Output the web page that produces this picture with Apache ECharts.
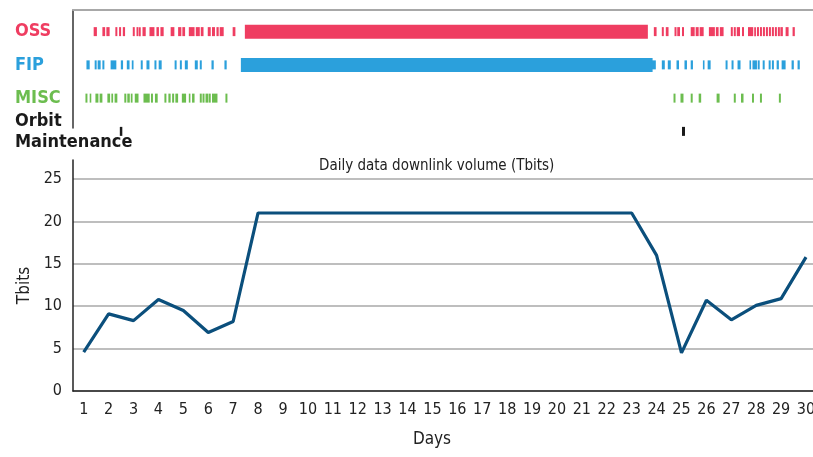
<!DOCTYPE html>
<html>
<head>
<meta charset="utf-8">
<script src="https://cdn.jsdelivr.net/npm/echarts@6/dist/echarts.min.js"></script>
<style>html,body{margin:0;padding:0;background:#fff}#c{width:813px;height:457px}</style>
</head>
<body>
<div id="c"></div>
<script>
// ---- data ----
const days = [1,2,3,4,5,6,7,8,9,10,11,12,13,14,15,16,17,18,19,20,21,22,23,24,25,26,27,28,29,30];
const volume = [4.6,9.1,8.3,10.8,9.5,6.9,8.2,21,21,21,21,21,21,21,21,21,21,21,21,21,21,21,21,16.0,4.5,10.7,8.4,10.1,10.9,15.8];
const rows = ['OSS','FIP','MISC','Orbit\nMaintenance'];

// activity windows, in days [start, end]
const ossRun = [[7.47,23.65]];
const fipRun = [[7.31,23.84]];
const ossEvents = [
 [1.40,1.53],[1.75,1.86],[1.91,2.04],[2.27,2.35],[2.42,2.50],[2.57,2.66],[2.97,3.05],[3.12,3.20],
 [3.22,3.29],[3.36,3.49],[3.64,3.84],[3.92,4.02],[4.08,4.21],[4.49,4.64],[4.79,4.92],[4.96,5.07],
 [5.22,5.45],[5.50,5.66],[5.70,5.81],[5.98,6.10],[6.15,6.27],[6.33,6.42],[6.46,6.62],[6.98,7.09],
 [23.89,24.00],[24.21,24.29],[24.37,24.48],[24.72,24.80],[24.83,24.94],[25.02,25.10],[25.37,25.53],
 [25.57,25.69],[25.73,25.89],[26.10,26.34],[26.38,26.49],[26.54,26.69],[26.98,27.06],[27.10,27.18],
 [27.22,27.35],[27.43,27.51],[27.67,27.88],[27.92,27.99],[28.03,28.11],[28.15,28.23],[28.27,28.35],
 [28.39,28.47],[28.51,28.59],[28.63,28.71],[28.75,28.83],[28.87,28.95],[28.97,29.07],[29.18,29.30],
 [29.46,29.55]
];
const fipEvents = [
 [1.11,1.24],[1.44,1.52],[1.56,1.68],[1.75,1.83],[2.08,2.31],[2.49,2.58],[2.73,2.84],[2.93,3.00],
 [3.29,3.37],[3.52,3.64],[3.84,3.92],[4.01,4.13],[4.65,4.73],[4.86,4.94],[5.06,5.18],[5.46,5.58],
 [5.66,5.74],[6.13,6.22],[6.65,6.74],[23.80,23.97],
 [24.21,24.33],[24.45,24.57],[24.80,24.90],[25.12,25.22],[25.37,25.46],[25.86,25.90],[26.05,26.17],
 [26.77,26.85],[27.01,27.09],[27.25,27.37],[27.73,27.77],[27.85,28.03],[28.06,28.14],[28.26,28.34],
 [28.50,28.58],[28.63,28.71],[28.82,28.91],[29.02,29.18],[29.42,29.51],[29.66,29.75]
];
const miscEvents = [
 [1.07,1.15],[1.24,1.29],[1.47,1.59],[1.64,1.75],[1.95,2.06],[2.11,2.18],[2.24,2.35],[2.63,2.71],
 [2.75,2.85],[2.89,2.96],[3.05,3.20],[3.40,3.65],[3.70,3.78],[3.86,3.97],[4.24,4.32],[4.40,4.49],
 [4.55,4.63],[4.68,4.79],[4.94,5.11],[5.22,5.28],[5.35,5.45],[5.66,5.74],[5.77,5.85],[5.89,5.99],
 [6.01,6.10],[6.15,6.37],[6.69,6.77],
 [24.68,24.76],[24.96,25.08],[25.37,25.45],[25.69,25.79],[26.41,26.53],[27.10,27.18],[27.39,27.49],
 [27.83,27.91],[28.15,28.23],[28.91,28.99]
];
const orbitEvents = [[2.45,2.55],[25.02,25.14]];

// ---- styling ----
const FONT = "'Liberation Sans Narrow','DejaVu Sans Condensed','Arial Narrow',sans-serif";
const colors = ['#ef3d61','#2ba0dc','#6cbd4f','#1a1a1a'];
const X_MIN = 0.57, X_MAX = 30.28;

function toData(list, row, kind){ return list.map(e => [e[0], e[1], row, kind]); }
function rectRender(color){
  return function(params, api){
    const s = api.coord([api.value(0), api.value(2)]);
    const e = api.coord([api.value(1), api.value(2)]);
    const h = api.value(3) ? 14 : 9;
    return {type:'rect', shape:{x:s[0], y:s[1]-h/2, width:Math.max(e[0]-s[0],1.6), height:h}, style:{fill:color}};
  };
}
function eventSeries(data, color){
  return {type:'custom', xAxisIndex:1, yAxisIndex:1, renderItem:rectRender(color), data:data,
    encode:{x:[0,1], y:2}, clip:false, silent:true, animation:false};
}

const chart = echarts.init(document.getElementById('c'), null, {renderer:'canvas'});
chart.setOption({
  animation:false,
  textStyle:{fontFamily:FONT},
  title:{text:'Daily data downlink volume (Tbits)', left:314, top:154,
    textStyle:{fontFamily:FONT, fontSize:15, fontWeight:'normal', color:'#222'}},
  grid:[
    {left:73, right:0, top:160, bottom:66, outerBoundsMode:'none', containLabel:false},
    {left:73, right:0, top:15, height:133, outerBoundsMode:'none', containLabel:false},
    {left:73, right:0, top:10, height:118, outerBoundsMode:'none', containLabel:false}
  ],
  xAxis:[
    {type:'value', gridIndex:0, min:X_MIN, max:X_MAX,
      name:'Days', nameLocation:'middle', nameGap:40,
      nameTextStyle:{fontFamily:FONT, fontSize:17, color:'#222', padding:[0,22,0,0]},
      axisLine:{show:true, onZero:false, lineStyle:{color:'#222', width:1.5}},
      axisTick:{show:false}, splitLine:{show:false},
      axisLabel:{customValues:days, fontFamily:FONT, fontSize:16, color:'#222', margin:11}},
    {type:'value', gridIndex:1, min:X_MIN, max:X_MAX, show:false},
    {type:'value', gridIndex:2, min:X_MIN, max:X_MAX, position:'top',
      axisLine:{show:true, onZero:false, lineStyle:{color:'#a8a8a8', width:2}},
      axisTick:{show:false}, axisLabel:{show:false}, splitLine:{show:false}}
  ],
  yAxis:[
    {type:'value', gridIndex:0, min:0, max:27.25, interval:5,
      name:'Tbits', nameLocation:'middle', nameGap:40, nameRotate:90,
      nameTextStyle:{fontFamily:FONT, fontSize:17, color:'#222', padding:[0,20,0,0]},
      axisLine:{show:true, onZero:false, lineStyle:{color:'#222', width:1.5}},
      axisTick:{show:false},
      axisLabel:{fontFamily:FONT, fontSize:16, color:'#222', margin:11, showMaxLabel:false},
      splitLine:{show:true, showMaxLine:false, lineStyle:{color:'#a8a8a8', width:1.5}}},
    {type:'category', gridIndex:1, data:rows, inverse:true,
      axisLine:{show:false}, axisTick:{show:false}, splitLine:{show:false},
      axisLabel:{align:'left', margin:58, fontFamily:FONT, fontSize:18, fontWeight:'bold', lineHeight:21,
        color:function(v){ return colors[rows.indexOf(v)]; }}},
    {type:'value', gridIndex:2, min:0, max:1,
      axisLine:{show:true, onZero:false, lineStyle:{color:'#333', width:1.5}},
      axisTick:{show:false}, axisLabel:{show:false}, splitLine:{show:false}}
  ],
  series:[
    {type:'line', xAxisIndex:0, yAxisIndex:0, data:days.map((d,i)=>[d, volume[i]]),
      symbol:'none', lineStyle:{color:'#0b4f7c', width:3.2}, itemStyle:{color:'#0b4f7c'}},
    eventSeries(toData(ossRun,0,1).concat(toData(ossEvents,0,0)), colors[0]),
    eventSeries(toData(fipRun,1,1).concat(toData(fipEvents,1,0)), colors[1]),
    eventSeries(toData(miscEvents,2,0), colors[2]),
    eventSeries(toData(orbitEvents,3,0), colors[3])
  ]
});
</script>
</body>
</html>
